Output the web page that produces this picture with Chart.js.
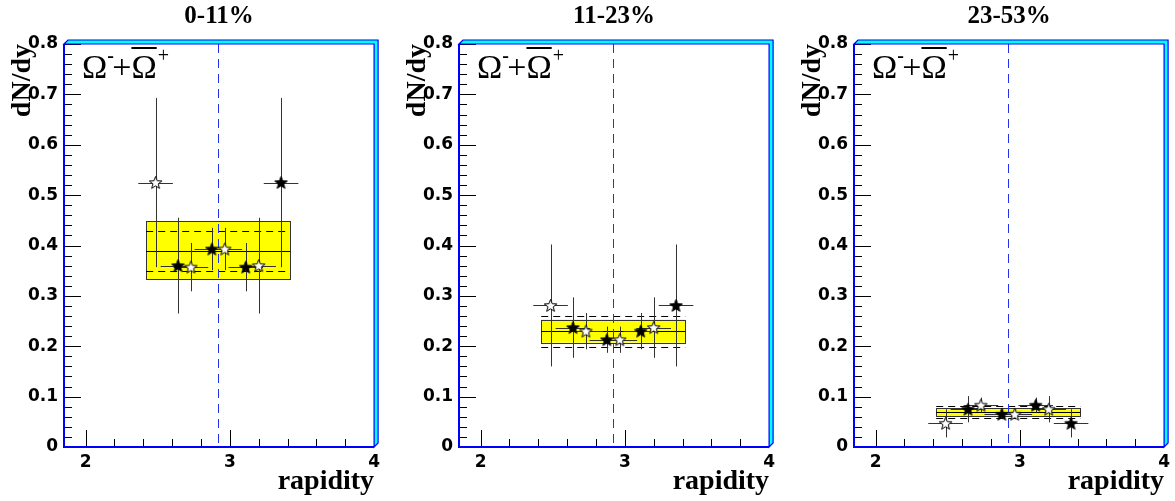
<!DOCTYPE html>
<html>
<head>
<meta charset="utf-8">
<script src="https://cdn.jsdelivr.net/npm/chart.js@4/dist/chart.umd.min.js"></script>
<style>
  body { margin: 0; background: #fff; width: 1175px; height: 501px; overflow: hidden; position: relative; }
  .panel { position: absolute; top: 0; width: 385px; height: 501px; }
</style>
</head>
<body>
<div class="panel" style="left:0px"><canvas id="c0" width="385" height="501"></canvas></div>
<div class="panel" style="left:395px"><canvas id="c1" width="385" height="501"></canvas></div>
<div class="panel" style="left:790px"><canvas id="c2" width="385" height="501"></canvas></div>
<script>
// centrality classes and axes
const centralities = ['0-11%', '11-23%', '23-53%'];
const xTicks = [2, 3, 4];
const yTicks = [0, 0.1, 0.2, 0.3, 0.4, 0.5, 0.6, 0.7, 0.8];
const yBeam = 2.92;

// rapidity of measured (filled) and reflected (open) points
const filledX = [2.64, 2.875, 3.11, 3.355];
const openX = [2.485, 2.73, 2.965, 3.2];
const xErr = [0.12, 0.12, 0.12, 0.12];

// 0-11%
const filledY0 = [0.360, 0.393, 0.357, 0.525];
const filledErr0 = [0.095, 0.042, 0.048, 0.168];
const openY0 = [0.525, 0.357, 0.393, 0.360];
const openErr0 = [0.168, 0.048, 0.042, 0.095];
// 11-23%
const filledY1 = [0.237, 0.213, 0.230, 0.281];
const filledErr1 = [0.060, 0.026, 0.036, 0.121];
const openY1 = [0.281, 0.230, 0.213, 0.237];
const openErr1 = [0.121, 0.036, 0.026, 0.060];
// 23-53%
const filledY2 = [0.075, 0.065, 0.083, 0.047];
const filledErr2 = [0.026, 0.010, 0.015, 0.028];
const openY2 = [0.047, 0.083, 0.065, 0.075];
const openErr2 = [0.028, 0.015, 0.010, 0.026];

// integrated yield box (syst. band, mean, stat. dashed)
const boxX = [2.42, 3.42];
const boxLow = [0.332, 0.207, 0.0615];
const boxHigh = [0.448, 0.253, 0.077];
const boxMean = [0.390, 0.230, 0.069];
const dashLow = [0.350, 0.199, 0.057];
const dashHigh = [0.429, 0.260, 0.082];

const panelData = [
  [filledY0, filledErr0, openY0, openErr0],
  [filledY1, filledErr1, openY1, openErr1],
  [filledY2, filledErr2, openY2, openErr2]
];

function makeStar(fill) {
  const c = document.createElement('canvas');
  c.width = 15; c.height = 15;
  const g = c.getContext('2d');
  g.beginPath();
  for (let i = 0; i < 10; i++) {
    const r = i % 2 ? 2.8 : 6.6;
    const a = -Math.PI / 2 + i * Math.PI / 5;
    const px = 7.5 + r * Math.cos(a), py = 8 + r * Math.sin(a);
    if (i) g.lineTo(px, py); else g.moveTo(px, py);
  }
  g.closePath();
  g.fillStyle = fill;
  g.fill();
  g.strokeStyle = '#000';
  g.lineWidth = 1;
  g.stroke();
  return c;
}
const filledStar = makeStar('#000');
const openStar = makeStar('#fff');

const hp = v => Math.round(v) + 0.5;

function makePanel(i) {
  const [fy, fe, oy, oe] = panelData[i];

  const decor = {
    id: 'decor' + i,
    beforeDatasetsDraw(chart) {
      const ctx = chart.ctx, xs = chart.scales.x, ys = chart.scales.y, a = chart.chartArea;
      ctx.save();
      // yellow box
      const x0 = xs.getPixelForValue(boxX[0]), x1 = xs.getPixelForValue(boxX[1]);
      const yl = ys.getPixelForValue(boxLow[i]), yh = ys.getPixelForValue(boxHigh[i]);
      ctx.fillStyle = '#ffff00';
      ctx.fillRect(x0, yh, x1 - x0, yl - yh);
      ctx.strokeStyle = '#333';
      ctx.lineWidth = 1;
      ctx.strokeRect(hp(x0), hp(yh), Math.round(x1 - x0), Math.round(yl - yh));
      ctx.beginPath();
      ctx.moveTo(x0, hp(ys.getPixelForValue(boxMean[i])));
      ctx.lineTo(x1, hp(ys.getPixelForValue(boxMean[i])));
      ctx.strokeStyle = '#000';
      ctx.stroke();
      ctx.setLineDash([7, 5]);
      [dashLow[i], dashHigh[i]].forEach(v => {
        ctx.beginPath();
        ctx.moveTo(x0, hp(ys.getPixelForValue(v)));
        ctx.lineTo(x1, hp(ys.getPixelForValue(v)));
        ctx.stroke();
      });
      // beam rapidity line
      ctx.setLineDash([9, 6]);
      ctx.strokeStyle = '#2233ee';
      ctx.beginPath();
      const xb = hp(xs.getPixelForValue(yBeam));
      ctx.moveTo(xb, a.top);
      ctx.lineTo(xb, a.bottom);
      ctx.stroke();
      ctx.setLineDash([]);
      // error bars
      ctx.strokeStyle = '#333';
      const bars = (X, Y, E) => X.forEach((x, k) => {
        const px = xs.getPixelForValue(x), py = ys.getPixelForValue(Y[k]);
        ctx.beginPath();
        ctx.moveTo(xs.getPixelForValue(x - xErr[k]), hp(py));
        ctx.lineTo(xs.getPixelForValue(x + xErr[k]), hp(py));
        ctx.moveTo(hp(px), ys.getPixelForValue(Y[k] + E[k]));
        ctx.lineTo(hp(px), ys.getPixelForValue(Y[k] - E[k]));
        ctx.stroke();
      });
      bars(filledX, fy, fe);
      bars(openX, oy, oe);
      ctx.restore();
    },
    afterDraw(chart) {
      const ctx = chart.ctx, xs = chart.scales.x, ys = chart.scales.y, a = chart.chartArea;
      const L = a.left, R = a.right, T = a.top, B = a.bottom, w = 4;
      ctx.save();
      // ticks inside the frame
      ctx.strokeStyle = '#000';
      ctx.lineWidth = 1;
      ctx.beginPath();
      for (let k = 0; k <= 40; k++) {
        const v = k * 0.02;
        const py = hp(ys.getPixelForValue(v));
        ctx.moveTo(L, py);
        ctx.lineTo(L + (k % 5 === 0 ? 17 : 8), py);
      }
      for (let k = 10; k <= 20; k++) {
        const v = k * 0.2;
        const px = hp(xs.getPixelForValue(v));
        ctx.moveTo(px, B);
        ctx.lineTo(px, B - (k % 5 === 0 ? 17 : 8));
      }
      ctx.stroke();
      // frame
      ctx.strokeStyle = '#0000ff';
      ctx.lineWidth = 2;
      ctx.beginPath();
      ctx.moveTo(L, T);
      ctx.lineTo(L, B);
      ctx.lineTo(R, B);
      ctx.stroke();
      ctx.fillStyle = '#00ffff';
      ctx.beginPath();
      ctx.moveTo(L, T);
      ctx.lineTo(L + w, T - w);
      ctx.lineTo(R + w, T - w);
      ctx.lineTo(R + w, B - w);
      ctx.lineTo(R, B);
      ctx.lineTo(R, T);
      ctx.closePath();
      ctx.fill();
      ctx.lineWidth = 1.2;
      ctx.stroke();
      // particle label
      ctx.fillStyle = '#000';
      ctx.textBaseline = 'alphabetic';
      ctx.textAlign = 'left';
      const bx = L + 18, by = T + 34;
      ctx.font = '34px "Liberation Serif"';
      ctx.fillText('\u03A9', bx, by);
      const wO = ctx.measureText('\u03A9').width;
      ctx.font = 'bold 20px "Liberation Serif"';
      ctx.fillText('-', bx + wO, by - 16);
      ctx.font = '34px "Liberation Serif"';
      ctx.fillText('+', bx + wO + 5, by);
      const x2 = bx + wO + 5 + ctx.measureText('+').width;
      ctx.fillText('\u03A9', x2, by);
      ctx.lineWidth = 2;
      ctx.strokeStyle = '#000';
      ctx.beginPath();
      ctx.moveTo(x2, by - 30);
      ctx.lineTo(x2 + wO, by - 30);
      ctx.stroke();
      ctx.font = '20px "Liberation Serif"';
      ctx.fillText('+', x2 + wO + 1, by - 16);
      ctx.restore();
    }
  };

  return new Chart(document.getElementById('c' + i), {
    type: 'scatter',
    data: {
      datasets: [{
        label: 'measured',
        data: filledX.map((x, k) => ({ x: x, y: fy[k] })),
        pointStyle: filledStar,
        showLine: false
      }, {
        label: 'reflected',
        data: openX.map((x, k) => ({ x: x, y: oy[k] })),
        pointStyle: openStar,
        showLine: false
      }]
    },
    options: {
      responsive: false,
      animation: false,
      events: [],
      layout: { padding: { left: 0, right: 9, top: 0, bottom: 0 } },
      plugins: {
        legend: { display: false },
        tooltip: { enabled: false },
        title: {
          display: true,
          text: centralities[i],
          fullSize: false,
          color: '#000',
          font: { family: 'Liberation Serif', size: 25, weight: 'bold', lineHeight: 1.2 },
          padding: { top: 2, bottom: 12 }
        }
      },
      scales: {
        x: {
          type: 'linear',
          min: 1.85,
          max: 4.0,
          afterBuildTicks: s => { s.ticks = xTicks.map(v => ({ value: v })); },
          afterFit: s => { s.height = 54; },
          grid: { display: false, drawTicks: false },
          border: { display: false },
          ticks: {
            color: '#000',
            padding: 5,
            maxRotation: 0,
            autoSkip: false,
            font: { family: 'DejaVu Sans', size: 17, weight: 'bold', lineHeight: 1.2 },
            callback: v => String(v)
          },
          title: {
            display: true,
            text: 'rapidity',
            align: 'end',
            color: '#000',
            font: { family: 'Liberation Serif', size: 28, weight: 'bold', lineHeight: 1 },
            padding: { top: 0, bottom: 5 }
          }
        },
        y: {
          type: 'linear',
          min: 0,
          max: 0.8,
          afterBuildTicks: s => { s.ticks = yTicks.map(v => ({ value: v })); },
          afterFit: s => { s.width = 64; },
          grid: { display: false, drawTicks: false },
          border: { display: false },
          ticks: {
            color: '#000',
            padding: 6,
            font: { family: 'DejaVu Sans', size: 17, weight: 'bold' },
            callback: v => (v === 0 ? '0' : v.toFixed(1))
          },
          title: {
            display: true,
            text: 'dN/dy',
            align: 'end',
            color: '#000',
            font: { family: 'Liberation Serif', size: 28, weight: 'bold', lineHeight: 1.2 },
            padding: { top: 6, bottom: 0 }
          }
        }
      }
    },
    plugins: [decor]
  });
}

[0, 1, 2].forEach(makePanel);
</script>
</body>
</html>
